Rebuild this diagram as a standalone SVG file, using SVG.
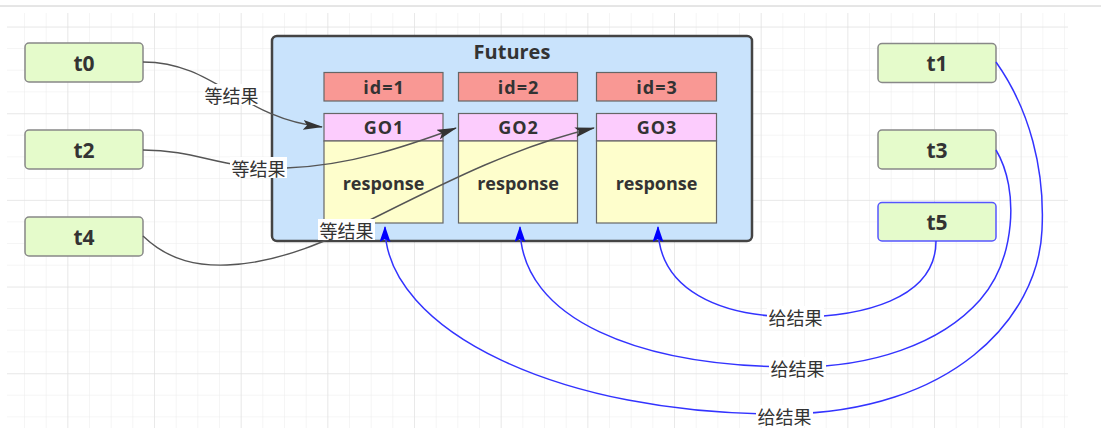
<svg xmlns="http://www.w3.org/2000/svg" width="1101" height="428" viewBox="0 0 1101 428">
<defs>
<pattern id="gmin" x="3.33" y="5.67" width="21.667" height="21.667" patternUnits="userSpaceOnUse">
<path d="M21.667 0V21.667M0 21.667H21.667" fill="none" stroke="#ececec" stroke-width="1"/>
</pattern>
<pattern id="gmaj" x="-18.33" y="-59" width="86.667" height="86.667" patternUnits="userSpaceOnUse">
<path d="M86.667 0V86.667M0 86.667H86.667" fill="none" stroke="#dedede" stroke-width="1"/>
</pattern>
<marker id="ad" viewBox="0 0 20 10" refX="19" refY="5" markerWidth="20" markerHeight="10" markerUnits="userSpaceOnUse" orient="auto">
<path d="M0 0L20 5L0 10L4 5Z" fill="#333"/>
</marker>
<marker id="ab" viewBox="0 0 16 11" refX="15" refY="5.5" markerWidth="16" markerHeight="11" markerUnits="userSpaceOnUse" orient="auto">
<path d="M0 0L16 5.5L0 11L3 5.5Z" fill="#0000ff"/>
</marker>
</defs>
<style>
text{font-family:"Open Sans","Noto Sans","Liberation Sans","Noto Sans CJK SC",sans-serif;fill:#333;text-anchor:middle;dominant-baseline:central}
.b{font-weight:bold}
.ls{letter-spacing:1px}
.th{fill:#e5fbcb;stroke:#888;stroke-width:1.5}
.idb{fill:#f99894;stroke:#666;stroke-width:1.2}
.go{fill:#fcccfd;stroke:#666;stroke-width:1.2}
.rs{fill:#fefecc;stroke:#666;stroke-width:1.2}
.dk{fill:none;stroke:#555;stroke-width:1.4}
.bl{fill:none;stroke:#3333ff;stroke-width:1.5}
.lb{font-family:"Noto Sans CJK SC","Noto Sans",sans-serif;font-size:18px;fill:#333}
.lbg{fill:#fff}
</style>
<rect width="1101" height="428" fill="#fff"/>
<line x1="0" y1="6" x2="1101" y2="6" stroke="#ccc" stroke-width="1"/>
<rect x="7" y="13" width="1061" height="415" fill="url(#gmin)"/>
<rect x="7" y="13" width="1061" height="415" fill="url(#gmaj)"/>

<g id="futures">
<rect x="272" y="36" width="480" height="205" rx="5" fill="#c9e3fc" stroke="#444" stroke-width="2.5"/>
<text x="512" y="51" class="b" font-size="20">Futures</text>
</g>
<g id="id1"><rect class="idb" x="324" y="72.5" width="119" height="28.5"/><text x="384" y="86.5" class="b ls" font-size="18">id=1</text></g>
<g id="id2"><rect class="idb" x="458.5" y="72.5" width="119" height="28.5"/><text x="518.5" y="86.5" class="b ls" font-size="18">id=2</text></g>
<g id="id3"><rect class="idb" x="596.5" y="72.5" width="120" height="28.5"/><text x="657" y="86.5" class="b ls" font-size="18">id=3</text></g>
<g id="go1"><rect class="go" x="324" y="113.5" width="119" height="27.5"/><text x="384" y="127" class="b ls" font-size="18">GO1</text>
<rect class="rs" x="324" y="141" width="119" height="82"/><text x="383.5" y="183" class="b" font-size="18">response</text></g>
<g id="go2"><rect class="go" x="458.5" y="113.5" width="119" height="27.5"/><text x="518.5" y="127" class="b ls" font-size="18">GO2</text>
<rect class="rs" x="458.5" y="141" width="119" height="82"/><text x="518" y="183" class="b" font-size="18">response</text></g>
<g id="go3"><rect class="go" x="596.5" y="113.5" width="120" height="27.5"/><text x="657" y="127" class="b ls" font-size="18">GO3</text>
<rect class="rs" x="596.5" y="141" width="120" height="82"/><text x="656.5" y="183" class="b" font-size="18">response</text></g>

<g id="t0"><rect class="th" x="25" y="43" width="118" height="39" rx="4"/><text x="84" y="62.5" class="b" font-size="21">t0</text></g>
<g id="t2"><rect class="th" x="25" y="130" width="118" height="39" rx="4"/><text x="84" y="149.5" class="b" font-size="21">t2</text></g>
<g id="t4"><rect class="th" x="25" y="217" width="118" height="39" rx="4"/><text x="84" y="236.5" class="b" font-size="21">t4</text></g>
<g id="t1"><rect class="th" x="878" y="43.5" width="118" height="39" rx="4"/><text x="937" y="63" class="b" font-size="21">t1</text></g>
<g id="t3"><rect class="th" x="878" y="130" width="118" height="39" rx="4"/><text x="937" y="149.5" class="b" font-size="21">t3</text></g>
<g id="t5"><rect class="th" x="878" y="202.5" width="118" height="38.5" rx="4" style="stroke:#5555ff"/><text x="937" y="222" class="b" font-size="21">t5</text></g>

<g id="connectors">
<path class="dk" d="M143 62C215 62 240 118 322 127" marker-end="url(#ad)"/>
<path class="dk" d="M143 150C200 150 220 170 286 168C350 166 410 145 456 128" marker-end="url(#ad)"/>
<path class="dk" d="M143 236C170 262 200 266 227 265C280 263 330 240 380 215C450 180 520 145 594 128" marker-end="url(#ad)"/>
<path class="bl" d="M936 241C936 300 860 317 796 317C720 317 658 290 658 227" marker-end="url(#ab)"/>
<path class="bl" d="M996 150C1020 190 1015 260 980 300C940 345 870 367 797 367C640 367 520 320 520 227" marker-end="url(#ab)"/>
<path class="bl" d="M996 62C1030 110 1045 170 1042 230C1038 320 950 412 786 414C560 416 385 330 385 227" marker-end="url(#ab)"/>
<rect class="lbg" x="203" y="84" width="57" height="21"/><text class="lb" x="231.5" y="94.5">等结果</text>
<rect class="lbg" x="230" y="157" width="57" height="21"/><text class="lb" x="258.5" y="167.5">等结果</text>
<rect class="lbg" x="318" y="219" width="57" height="21"/><text class="lb" x="346.5" y="229.5">等结果</text>
<rect class="lbg" x="767" y="306" width="57" height="21"/><text class="lb" x="795.5" y="316.5">给结果</text>
<rect class="lbg" x="769" y="357" width="57" height="21"/><text class="lb" x="797.5" y="367.5">给结果</text>
<rect class="lbg" x="756" y="405" width="57" height="21"/><text class="lb" x="784.5" y="415.5">给结果</text>
</g>
</svg>
